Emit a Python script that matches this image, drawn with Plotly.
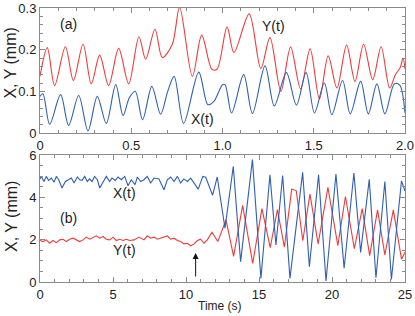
import plotly.graph_objects as go

# ---------------- data: panel (a) ----------------
ta_Y = [0.0, 0.040, 0.080, 0.139, 0.183, 0.236, 0.281, 0.327, 0.376, 0.431, 0.486,
        0.542, 0.579, 0.630, 0.670, 0.725, 0.765, 0.835, 0.886, 0.942, 0.970, 1.025,
        1.063, 1.146, 1.210, 1.260, 1.320, 1.373, 1.428, 1.480, 1.531, 1.579, 1.627,
        1.680, 1.726, 1.773, 1.823, 1.869, 1.916, 1.947, 1.974, 1.989, 2.0]
a_Y = [0.136, 0.205, 0.114, 0.207, 0.126, 0.213, 0.118, 0.187, 0.114, 0.203, 0.118,
       0.231, 0.177, 0.249, 0.181, 0.213, 0.302, 0.136, 0.235, 0.153, 0.153, 0.254,
       0.193, 0.286, 0.155, 0.229, 0.100, 0.206, 0.106, 0.202, 0.082, 0.185, 0.108,
       0.211, 0.124, 0.213, 0.128, 0.207, 0.108, 0.140, 0.157, 0.180, 0.153]

ta_X = [0.0, 0.016, 0.053, 0.113, 0.157, 0.212, 0.263, 0.314, 0.363, 0.415, 0.455,
        0.490, 0.522, 0.562, 0.613, 0.661, 0.700, 0.735, 0.787, 0.870, 0.920, 0.953,
        1.000, 1.014, 1.050, 1.116, 1.164, 1.233, 1.284, 1.350, 1.405, 1.458, 1.504,
        1.558, 1.599, 1.658, 1.700, 1.757, 1.799, 1.846, 1.890, 1.942, 1.971, 2.0]
a_X = [0.088, 0.094, 0.021, 0.092, 0.018, 0.090, 0.005, 0.088, 0.023, 0.116, 0.042,
       0.085, 0.100, 0.032, 0.112, 0.045, 0.100, 0.136, 0.023, 0.146, 0.068, 0.076,
       0.116, 0.116, 0.048, 0.140, 0.047, 0.161, 0.065, 0.145, 0.067, 0.145, 0.048,
       0.120, 0.044, 0.126, 0.046, 0.124, 0.046, 0.118, 0.046, 0.118, 0.115, 0.048]

# ---------------- data: panel (b) ----------------
tb_X = [0.0, 0.09, 0.27, 0.43, 0.59, 0.78, 0.96, 1.12, 1.28, 1.51, 1.74, 1.92, 2.15,
        2.33, 2.56, 2.72, 2.88, 3.06, 3.24, 3.40, 3.56, 3.74, 3.93, 4.09, 4.32, 4.54,
        4.77, 4.93, 5.16, 5.34, 5.57, 5.80, 6.03, 6.25, 6.51, 6.67, 6.90, 7.12, 7.35,
        7.58, 7.81, 8.15, 8.49, 8.72, 8.95, 9.18, 9.41, 9.63, 9.86, 10.09, 10.32,
        10.55, 10.84, 11.15, 11.35, 11.82, 12.14, 12.67, 13.24, 13.74, 14.55, 15.13,
        15.75, 16.16, 16.62, 17.12, 17.99, 18.45, 19.08, 19.59, 20.27, 20.83, 21.50,
        21.96, 22.55, 23.01, 23.62, 24.07, 24.76, 25.0]
b_X = [4.87, 4.99, 4.75, 4.99, 4.80, 4.91, 4.71, 4.99, 4.83, 4.44, 4.75, 4.83, 4.91,
       4.68, 4.96, 4.83, 4.80, 4.99, 4.75, 4.87, 4.75, 4.99, 4.83, 4.44, 4.71, 4.99,
       4.75, 4.91, 4.80, 4.96, 4.83, 4.99, 4.55, 4.83, 4.60, 4.96, 4.75, 4.83, 4.99,
       4.68, 4.91, 4.87, 4.36, 4.83, 4.96, 4.75, 4.99, 4.68, 4.87, 4.75, 4.91, 4.68,
       4.39, 4.99, 4.95, 4.10, 4.96, 2.54, 5.46, 0.96, 5.78, 0.17, 5.07, 1.75, 5.03,
       0.17, 5.18, 0.72, 5.07, 0.05, 5.10, 0.65, 5.15, 1.40, 4.85, 0.20, 4.75, 0.12,
       4.78, 4.30]

tb_Y = [0.0, 0.21, 0.43, 0.66, 0.89, 1.12, 1.35, 1.58, 1.80, 2.03, 2.26, 2.49, 2.72,
        2.95, 3.17, 3.40, 3.63, 3.86, 4.09, 4.32, 4.54, 4.77, 5.00, 5.23, 5.46, 5.69,
        5.91, 6.14, 6.44, 6.78, 7.12, 7.35, 7.58, 7.81, 8.04, 8.26, 8.49, 8.72, 8.95,
        9.18, 9.41, 9.63, 9.86, 10.09, 10.32, 10.55, 10.78, 11.00, 11.23, 11.46, 11.78,
        12.18, 12.74, 13.26, 13.88, 14.57, 15.20, 15.77, 16.26, 16.74, 17.24, 17.55,
        18.00, 18.49, 19.05, 19.72, 20.40, 20.92, 21.53, 22.07, 22.58, 23.12, 23.62,
        24.20, 24.76, 25.0]
b_Y = [1.96, 1.91, 1.99, 1.83, 1.96, 1.86, 1.99, 2.02, 1.91, 2.02, 2.07, 1.99, 1.91,
       1.99, 2.12, 2.02, 2.12, 2.18, 2.07, 2.15, 2.02, 1.99, 2.12, 1.96, 2.02, 1.96,
       2.02, 1.96, 1.99, 2.12, 1.99, 2.18, 2.07, 2.12, 2.02, 2.07, 2.12, 2.18, 2.02,
       2.07, 1.96, 1.91, 1.80, 1.83, 1.71, 1.80, 1.96, 2.02, 1.83, 1.99, 2.35,
       1.91, 2.94, 1.21, 3.62, 0.88, 3.47, 1.62, 3.42, 1.65, 4.38, 4.32,
       1.95, 4.15, 1.80, 4.47, 1.72, 4.04, 1.58, 3.47, 1.25, 3.41, 1.28,
       3.41, 1.08, 1.40]

xa_ticks = [0, 0.5, 1.0, 1.5, 2.0]
xa_labels = ["0", "0.5", "1.0", "1.5", "2.0"]
ya_ticks = [0, 0.1, 0.2, 0.3]
ya_labels = ["0", "0.1", "0.2", "0.3"]
xb_ticks = [0, 5, 10, 15, 20, 25]
yb_ticks = [0, 2, 4, 6]

RED = "#ee3b3b"
BLUE = "#2f5fb3"
FONT = "Liberation Sans, Arial, sans-serif"
TXT = "#222222"
AX = "#8a8a8a"

fig = go.Figure()
fig.add_trace(go.Scatter(x=ta_Y, y=a_Y, mode="lines", line=dict(color=RED, width=1.1, shape="spline", smoothing=0.9), xaxis="x", yaxis="y", showlegend=False))
fig.add_trace(go.Scatter(x=ta_X, y=a_X, mode="lines", line=dict(color=BLUE, width=1.1, shape="spline", smoothing=0.9), xaxis="x", yaxis="y", showlegend=False))
fig.add_trace(go.Scatter(x=tb_Y, y=b_Y, mode="lines", line=dict(color=RED, width=1.1), xaxis="x2", yaxis="y2", showlegend=False))
fig.add_trace(go.Scatter(x=tb_X, y=b_X, mode="lines", line=dict(color=BLUE, width=1.1), xaxis="x2", yaxis="y2", showlegend=False))

axis_common = dict(showline=True, linecolor=AX, linewidth=1, mirror="ticks",
                   ticks="inside", ticklen=5, tickcolor=AX, showgrid=False,
                   zeroline=False, automargin=False,
                   tickfont=dict(family=FONT, size=13, color=TXT))

fig.update_layout(
    width=415, height=316,
    margin=dict(l=40, r=10, t=8, b=34),
    paper_bgcolor="white", plot_bgcolor="white",
    font=dict(family=FONT, size=13, color=TXT),
    xaxis=dict(domain=[0, 1], range=[0, 2], tickvals=xa_ticks, ticktext=xa_labels,
               minor=dict(dtick=0.1, ticks="inside", ticklen=3, tickcolor=AX),
               anchor="y", **axis_common),
    yaxis=dict(domain=[0.5438, 1], range=[0, 0.3], tickvals=ya_ticks, ticktext=ya_labels,
               minor=dict(dtick=0.02, ticks="inside", ticklen=3, tickcolor=AX),
               anchor="x", **axis_common),
    xaxis2=dict(domain=[0, 1], range=[0, 25], tickvals=xb_ticks,
                minor=dict(dtick=1, ticks="inside", ticklen=3, tickcolor=AX),
                anchor="y2", **axis_common),
    yaxis2=dict(domain=[0, 0.4635], range=[0, 6], tickvals=yb_ticks,
                minor=dict(dtick=0.5, ticks="inside", ticklen=3, tickcolor=AX),
                anchor="x2", **axis_common),
)

ann_font = dict(family=FONT, size=14, color=TXT)
fig.add_annotation(x=0.155, y=0.262, xref="x", yref="y", text="(a)", showarrow=False, font=ann_font)
fig.add_annotation(x=1.277, y=0.257, xref="x", yref="y", text="Y(t)", showarrow=False, font=ann_font)
fig.add_annotation(x=0.893, y=0.034, xref="x", yref="y", text="X(t)", showarrow=False, font=ann_font)
fig.add_annotation(x=5.82, y=4.22, xref="x2", yref="y2", text="X(t)", showarrow=False, font=ann_font)
fig.add_annotation(x=1.94, y=3.02, xref="x2", yref="y2", text="(b)", showarrow=False, font=ann_font)
fig.add_annotation(x=5.82, y=1.52, xref="x2", yref="y2", text="Y(t)", showarrow=False, font=ann_font)
fig.add_annotation(x=10.66, y=1.37, ax=10.66, ay=0.19, xref="x2", yref="y2", axref="x2", ayref="y2",
                   text="", showarrow=True, arrowhead=2, arrowsize=1.2, arrowwidth=1, arrowcolor="#111")

# axis titles (placed in paper coordinates)
title_font = dict(family=FONT, size=16, color=TXT)
fig.add_annotation(x=-0.08, y=0.80, xref="paper", yref="paper", text="X, Y (mm)", textangle=-90,
                   showarrow=False, font=title_font, xanchor="center", yanchor="middle")
fig.add_annotation(x=-0.08, y=0.24, xref="paper", yref="paper", text="X, Y (mm)", textangle=-90,
                   showarrow=False, font=title_font, xanchor="center", yanchor="middle")
fig.add_annotation(x=0.493, y=-0.0876, xref="paper", yref="paper", text="Time (s)",
                   showarrow=False, font=dict(family=FONT, size=12, color=TXT), xanchor="center", yanchor="middle")

fig.write_html("out.html", config={"displayModeBar": False},
               post_script="document.body.style.margin='0';document.body.style.padding='0';")
